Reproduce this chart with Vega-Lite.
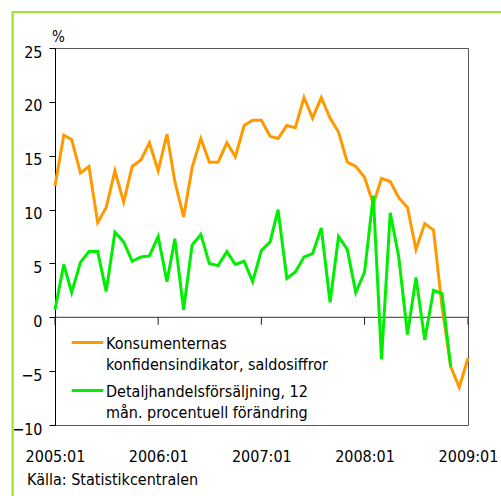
{
  "$schema": "https://vega.github.io/schema/vega-lite/v6.json",
  "width": 413,
  "height": 377,
  "autosize": {"type": "none"},
  "padding": {"left": 55, "top": 48, "right": 33, "bottom": 71},
  "background": "white",
  "config": {
    "view": {"stroke": "#555555", "strokeWidth": 1},
    "font": "DejaVu Sans Condensed, Liberation Sans"
  },
  "title": {
    "text": "Källa: Statistikcentralen",
    "orient": "bottom",
    "anchor": "start",
    "frame": "group",
    "dx": -28,
    "offset": -27,
    "font": "DejaVu Sans Condensed, Liberation Sans",
    "fontSize": 16,
    "fontWeight": "normal",
    "color": "black"
  },
  "layer": [
    {
      "data": {"values": [{}]},
      "mark": {"type": "rule", "color": "#9be22d", "strokeWidth": 2.2, "clip": false},
      "encoding": {
        "x": {"datum": {"year": 2004, "month": 8, "date": 4, "utc": true}, "type": "temporal"},
        "x2": {"datum": {"year": 2009, "month": 5, "date": 1, "utc": true}},
        "y": {"datum": 28.34, "type": "quantitative"}
      }
    },
    {
      "data": {"values": [{}]},
      "mark": {"type": "rule", "color": "#9be22d", "strokeWidth": 2.2, "clip": false},
      "encoding": {
        "x": {"datum": {"year": 2004, "month": 8, "date": 4, "utc": true}, "type": "temporal"},
        "y": {"datum": 28.44, "type": "quantitative"},
        "y2": {"datum": -16.8}
      }
    },
    {
      "data": {"values": [{}]},
      "mark": {"type": "rule", "color": "#333333", "strokeWidth": 1},
      "encoding": {"y": {"datum": 0, "type": "quantitative"}}
    },
    {
      "data": {"values": [{"t": "2005-01-01"}, {"t": "2006-01-01"}, {"t": "2007-01-01"}, {"t": "2008-01-01"}, {"t": "2009-01-01"}]},
      "mark": {"type": "rule", "color": "#222222", "strokeWidth": 1},
      "encoding": {
        "x": {"field": "t", "type": "temporal"},
        "y": {"datum": 0, "type": "quantitative"},
        "y2": {"datum": -0.7}
      }
    },
    {
      "data": {"values": [
        {"month": "2005-01-01", "series": "K", "value": 12.2},
        {"month": "2005-02-01", "series": "K", "value": 16.9},
        {"month": "2005-03-01", "series": "K", "value": 16.5},
        {"month": "2005-04-01", "series": "K", "value": 13.4},
        {"month": "2005-05-01", "series": "K", "value": 14.0},
        {"month": "2005-06-01", "series": "K", "value": 8.8},
        {"month": "2005-07-01", "series": "K", "value": 10.2},
        {"month": "2005-08-01", "series": "K", "value": 13.6},
        {"month": "2005-09-01", "series": "K", "value": 10.7},
        {"month": "2005-10-01", "series": "K", "value": 14.0},
        {"month": "2005-11-01", "series": "K", "value": 14.6},
        {"month": "2005-12-01", "series": "K", "value": 16.2},
        {"month": "2006-01-01", "series": "K", "value": 13.6},
        {"month": "2006-02-01", "series": "K", "value": 17.0},
        {"month": "2006-03-01", "series": "K", "value": 12.6},
        {"month": "2006-04-01", "series": "K", "value": 9.3},
        {"month": "2006-05-01", "series": "K", "value": 13.9},
        {"month": "2006-06-01", "series": "K", "value": 16.6},
        {"month": "2006-07-01", "series": "K", "value": 14.4},
        {"month": "2006-08-01", "series": "K", "value": 14.4},
        {"month": "2006-09-01", "series": "K", "value": 16.2},
        {"month": "2006-10-01", "series": "K", "value": 14.9},
        {"month": "2006-11-01", "series": "K", "value": 17.8},
        {"month": "2006-12-01", "series": "K", "value": 18.3},
        {"month": "2007-01-01", "series": "K", "value": 18.3},
        {"month": "2007-02-01", "series": "K", "value": 16.8},
        {"month": "2007-03-01", "series": "K", "value": 16.6},
        {"month": "2007-04-01", "series": "K", "value": 17.8},
        {"month": "2007-05-01", "series": "K", "value": 17.6},
        {"month": "2007-06-01", "series": "K", "value": 20.4},
        {"month": "2007-07-01", "series": "K", "value": 18.5},
        {"month": "2007-08-01", "series": "K", "value": 20.4},
        {"month": "2007-09-01", "series": "K", "value": 18.5},
        {"month": "2007-10-01", "series": "K", "value": 17.2},
        {"month": "2007-11-01", "series": "K", "value": 14.4},
        {"month": "2007-12-01", "series": "K", "value": 14.0},
        {"month": "2008-01-01", "series": "K", "value": 13.0},
        {"month": "2008-02-01", "series": "K", "value": 10.5},
        {"month": "2008-03-01", "series": "K", "value": 12.9},
        {"month": "2008-04-01", "series": "K", "value": 12.6},
        {"month": "2008-05-01", "series": "K", "value": 11.1},
        {"month": "2008-06-01", "series": "K", "value": 10.2},
        {"month": "2008-07-01", "series": "K", "value": 6.3},
        {"month": "2008-08-01", "series": "K", "value": 8.7},
        {"month": "2008-09-01", "series": "K", "value": 8.1},
        {"month": "2008-10-01", "series": "K", "value": 1.0},
        {"month": "2008-11-01", "series": "K", "value": -4.6},
        {"month": "2008-12-01", "series": "K", "value": -6.5},
        {"month": "2009-01-01", "series": "K", "value": -3.8},
        {"month": "2005-01-01", "series": "D", "value": 0.7},
        {"month": "2005-02-01", "series": "D", "value": 4.9},
        {"month": "2005-03-01", "series": "D", "value": 2.3},
        {"month": "2005-04-01", "series": "D", "value": 5.1},
        {"month": "2005-05-01", "series": "D", "value": 6.1},
        {"month": "2005-06-01", "series": "D", "value": 6.1},
        {"month": "2005-07-01", "series": "D", "value": 2.4},
        {"month": "2005-08-01", "series": "D", "value": 7.9},
        {"month": "2005-09-01", "series": "D", "value": 7.0},
        {"month": "2005-10-01", "series": "D", "value": 5.2},
        {"month": "2005-11-01", "series": "D", "value": 5.6},
        {"month": "2005-12-01", "series": "D", "value": 5.7},
        {"month": "2006-01-01", "series": "D", "value": 7.5},
        {"month": "2006-02-01", "series": "D", "value": 3.3},
        {"month": "2006-03-01", "series": "D", "value": 7.3},
        {"month": "2006-04-01", "series": "D", "value": 0.7},
        {"month": "2006-05-01", "series": "D", "value": 6.7},
        {"month": "2006-06-01", "series": "D", "value": 7.7},
        {"month": "2006-07-01", "series": "D", "value": 5.0},
        {"month": "2006-08-01", "series": "D", "value": 4.8},
        {"month": "2006-09-01", "series": "D", "value": 6.1},
        {"month": "2006-10-01", "series": "D", "value": 4.9},
        {"month": "2006-11-01", "series": "D", "value": 5.2},
        {"month": "2006-12-01", "series": "D", "value": 3.3},
        {"month": "2007-01-01", "series": "D", "value": 6.2},
        {"month": "2007-02-01", "series": "D", "value": 7.0},
        {"month": "2007-03-01", "series": "D", "value": 10.0},
        {"month": "2007-04-01", "series": "D", "value": 3.6},
        {"month": "2007-05-01", "series": "D", "value": 4.2},
        {"month": "2007-06-01", "series": "D", "value": 5.6},
        {"month": "2007-07-01", "series": "D", "value": 5.9},
        {"month": "2007-08-01", "series": "D", "value": 8.3},
        {"month": "2007-09-01", "series": "D", "value": 1.4},
        {"month": "2007-10-01", "series": "D", "value": 7.5},
        {"month": "2007-11-01", "series": "D", "value": 6.3},
        {"month": "2007-12-01", "series": "D", "value": 2.3},
        {"month": "2008-01-01", "series": "D", "value": 4.2},
        {"month": "2008-02-01", "series": "D", "value": 11.3},
        {"month": "2008-03-01", "series": "D", "value": -3.9},
        {"month": "2008-04-01", "series": "D", "value": 9.7},
        {"month": "2008-05-01", "series": "D", "value": 5.6},
        {"month": "2008-06-01", "series": "D", "value": -1.6},
        {"month": "2008-07-01", "series": "D", "value": 3.7},
        {"month": "2008-08-01", "series": "D", "value": -2.1},
        {"month": "2008-09-01", "series": "D", "value": 2.5},
        {"month": "2008-10-01", "series": "D", "value": 2.2},
        {"month": "2008-11-01", "series": "D", "value": -4.6}
      ]},
      "mark": {"type": "line", "strokeWidth": 3},
      "encoding": {
        "x": {
          "field": "month",
          "type": "temporal",
          "scale": {"type": "utc", "domain": [{"year": 2005, "month": 1, "date": 1, "utc": true}, {"year": 2009, "month": 1, "date": 1, "utc": true}]},
          "axis": {
            "orient": "bottom",
            "title": null,
            "domain": false,
            "ticks": false,
            "grid": false,
            "values": [
              {"year": 2005, "month": 1, "date": 1, "utc": true},
              {"year": 2006, "month": 1, "date": 1, "utc": true},
              {"year": 2007, "month": 1, "date": 1, "utc": true},
              {"year": 2008, "month": 1, "date": 1, "utc": true},
              {"year": 2009, "month": 1, "date": 1, "utc": true}
            ],
            "labelExpr": "utcFormat(datum.value, '%Y:%m')",
            "labelPadding": 23,
            "labelFont": "DejaVu Sans Condensed, Liberation Sans",
            "labelFontSize": 16,
            "labelColor": "black",
            "labelFlush": false,
            "labelOverlap": false
          }
        },
        "y": {
          "field": "value",
          "type": "quantitative",
          "scale": {"domain": [-10, 25], "nice": false, "zero": false},
          "axis": {
            "values": [-10, -5, 0, 5, 10, 15, 20, 25],
            "grid": false,
            "tickSize": 6,
            "tickColor": "black",
            "domainColor": "black",
            "labelPadding": 7,
            "labelOffset": 4,
            "labelFont": "DejaVu Sans Condensed, Liberation Sans",
            "labelFontSize": 16,
            "labelColor": "black",
            "title": "%",
            "titleAngle": 0,
            "titleX": 3,
            "titleY": -4,
            "titleAlign": "center",
            "titleBaseline": "bottom",
            "titleFont": "DejaVu Sans Condensed, Liberation Sans",
            "titleFontSize": 15,
            "titleFontWeight": "normal",
            "titleColor": "black"
          }
        },
        "color": {
          "field": "series",
          "type": "nominal",
          "sort": ["K", "D"],
          "scale": {"domain": ["K", "D"], "range": ["#ff9900", "#00ee00"]},
          "legend": {
            "orient": "none",
            "legendX": 15,
            "legendY": 277,
            "title": null,
            "padding": 0,
            "symbolType": "stroke",
            "symbolSize": 1000,
            "symbolStrokeWidth": 3,
            "labelFont": "DejaVu Sans Condensed, Liberation Sans",
            "labelFontSize": 16,
            "labelColor": "black",
            "labelLimit": 400,
            "labelOffset": 1,
            "labelBaseline": "alphabetic",
            "rowPadding": -3,
            "labelExpr": "datum.label == 'K' ? ['Konsumenternas', 'konfidensindikator, saldosiffror'] : ['Detaljhandelsförsäljning, 12', 'mån. procentuell förändring']",
            "encode": {"labels": {"update": {"lineHeight": {"value": 21}, "dy": {"value": 6}}}}
          }
        }
      }
    }
  ]
}
